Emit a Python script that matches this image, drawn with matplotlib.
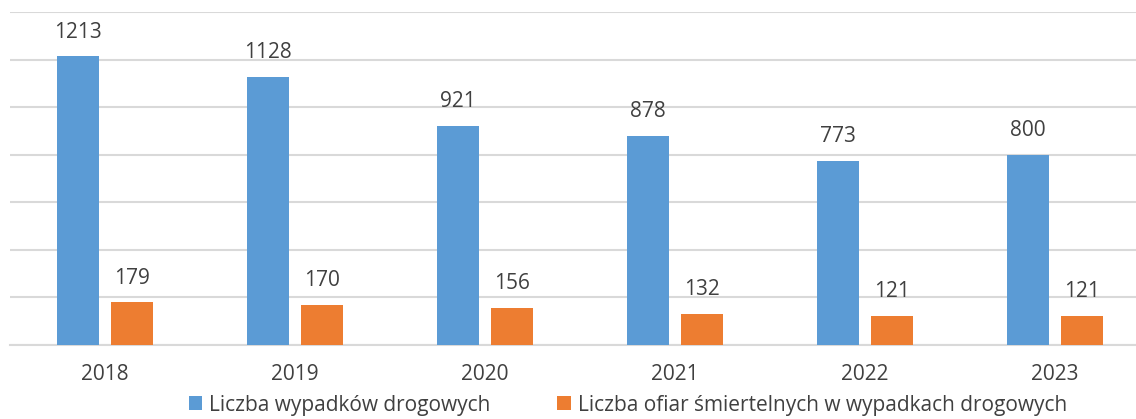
import matplotlib
matplotlib.use("Agg")
import matplotlib.pyplot as plt
import numpy as np

years = ["2018", "2019", "2020", "2021", "2022", "2023"]
accidents = [1213, 1128, 921, 878, 773, 800]
fatalities = [179, 170, 156, 132, 121, 121]
series_names = ["Liczba wypadków drogowych", "Liczba ofiar śmiertelnych w wypadkach drogowych"]

plt.rcParams['font.family'] = ['Open Sans', 'DejaVu Sans']
text_color = "#404040"
blue = "#5B9BD5"
orange = "#ED7D31"

W, H = 1136, 419
fig = plt.figure(figsize=(W / 100, H / 100), dpi=100)
left, right, top, bottom = 10, 1150, 12, 345
ax = fig.add_axes([left / W, 1 - bottom / H, (right - left) / W, (bottom - top) / H])

x = np.arange(len(years))
bw = 0.221
off = 0.142
b1 = ax.bar(x - off, accidents, bw, color=blue, zorder=3)
b2 = ax.bar(x + off, fatalities, bw, color=orange, zorder=3)

for bars, vals in ((b1, accidents), (b2, fatalities)):
    for r, v in zip(bars, vals):
        ax.annotate(str(v), (r.get_x() + r.get_width() / 2, v), xytext=(0, 10),
                    textcoords="offset points", ha="center", va="bottom",
                    fontsize=15, color=text_color)

ax.set_xlim(-0.5, len(years) - 0.5)
ax.set_ylim(0, 1400)
ax.set_yticks(np.arange(0, 1401, 200))
ax.yaxis.grid(True, color="#D9D9D9", linewidth=1.5, zorder=0)
ax.set_yticklabels([])
ax.tick_params(axis="y", length=0)
ax.tick_params(axis="x", length=0, pad=14, labelsize=15, colors=text_color)
ax.set_xticks(x)
ax.set_xticklabels(years)
for s in ("top", "right", "left"):
    ax.spines[s].set_visible(False)
ax.spines["bottom"].set_color("#D9D9D9")
ax.spines["bottom"].set_linewidth(1.5)

fig.legend([b1, b2], series_names, loc="center", bbox_to_anchor=(628 / W, 1 - 405 / H),
           ncol=2, frameon=False, fontsize=15, labelcolor=text_color,
           handlelength=0.65, handleheight=0.65, handletextpad=0.35, columnspacing=3.2)

fig.savefig("out.png", dpi=100)
